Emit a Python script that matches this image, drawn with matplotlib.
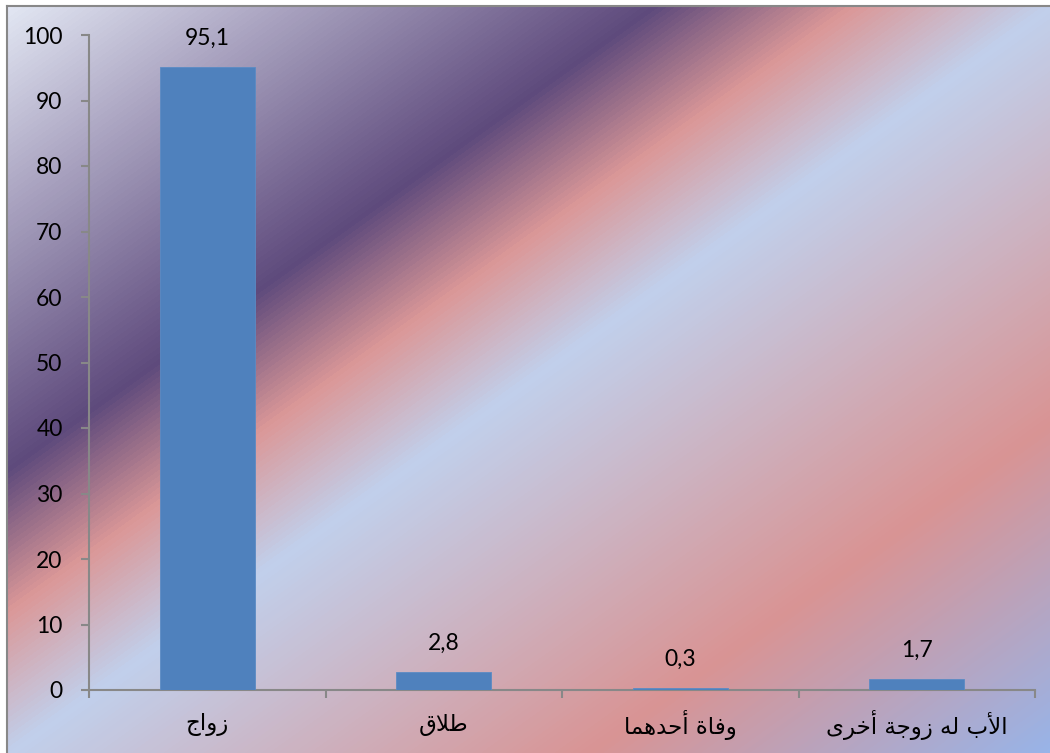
import numpy as np
import matplotlib
matplotlib.use("Agg")
import matplotlib.pyplot as plt
from matplotlib.colors import LinearSegmentedColormap

categories = ['زواج', 'طلاق', 'وفاة أحدهما', 'الأب له زوجة أخرى']
values = [95.1, 2.8, 0.3, 1.7]
value_labels = ['95,1', '2,8', '0,3', '1,7']
y_ticks = [0, 10, 20, 30, 40, 50, 60, 70, 80, 90, 100]

# minimal arabic shaping (matplotlib has no bidi / joining support)
LETTERS = {'ا': 0xFE8D, 'أ': 0xFE83, 'ب': 0xFE8F, 'ة': 0xFE93, 'ج': 0xFE9D,
           'ح': 0xFEA1, 'خ': 0xFEA5, 'د': 0xFEA9, 'ر': 0xFEAD, 'ز': 0xFEAF,
           'ط': 0xFEC1, 'ف': 0xFED1, 'ق': 0xFED5, 'ل': 0xFEDD, 'م': 0xFEE1,
           'ه': 0xFEE9, 'و': 0xFEED, 'ى': 0xFEEF, 'لا': 0xFEFB, 'لأ': 0xFEF7}
DUAL = set('بجحخطفقلمه')


def shape(text):
    toks = []
    i = 0
    while i < len(text):
        if text[i] == 'ل' and i + 1 < len(text) and text[i + 1] in 'اأ':
            toks.append(text[i:i + 2])
            i += 2
        else:
            toks.append(text[i])
            i += 1
    out = []
    for k, t in enumerate(toks):
        if t not in LETTERS:
            out.append(t)
            continue
        prev = k > 0 and toks[k - 1] in DUAL
        nxt = t in DUAL and k + 1 < len(toks) and toks[k + 1] in LETTERS
        off = {(False, False): 0, (True, False): 1, (False, True): 2, (True, True): 3}[(prev, nxt)]
        out.append(chr(LETTERS[t] + off))
    return ''.join(reversed(out))


fig = plt.figure(figsize=(10.5, 7.53), dpi=100)

# gradient background of the chart area
bg = fig.add_axes([7 / 1050, 0, 1 - 7 / 1050, 1 - 6 / 753])
cmap = LinearSegmentedColormap.from_list('bg', [
    (0.0, '#e2e6f3'), (0.31, '#5e4a7c'), (0.405, '#db9898'),
    (0.5, '#c1d0ec'), (0.78, '#d99494'), (1.0, '#98b4e8')])
h, w = 747, 1043
yy, xx = np.mgrid[0:h, 0:w]
t = (xx / w + yy / h) / 2
bg.imshow(t, cmap=cmap, vmin=0, vmax=1, aspect='auto', interpolation='bilinear')
bg.set_xticks([])
bg.set_yticks([])
for s in ['right', 'bottom']:
    bg.spines[s].set_visible(False)
for s in ['left', 'top']:
    bg.spines[s].set_color('#888888')
    bg.spines[s].set_linewidth(1.5)

ax = fig.add_axes([89 / 1050, 1 - 690 / 753, (1035 - 89) / 1050, (690 - 35) / 753])
ax.set_facecolor('none')
x = np.arange(len(categories))
ax.bar(x, values, width=0.4, color='#4f81bd', edgecolor='#5b8bc4', linewidth=0.6, zorder=3)

for xi, v, lab in zip(x, values, value_labels):
    ax.annotate(lab, (xi, v), xytext=(0, 13), textcoords='offset points',
                ha='center', va='bottom', fontsize=16.5, family='Lato', color='black')

ax.set_xlim(-0.5, len(categories) - 0.5)
ax.set_ylim(0, 100)
ax.set_yticks(y_ticks)
ax.set_yticklabels([str(v) for v in y_ticks], family='Lato', fontsize=16.5)
ax.set_xticks(np.arange(-0.5, len(categories), 1.0))
ax.set_xticklabels([])
ax.set_xticks(x, minor=True)
ax.set_xticklabels([shape(c) for c in categories], minor=True,
                   family=['DejaVu Sans'], fontsize=16.5, va='center')
ax.tick_params(axis='y', length=6, width=1.5, color='#888888', pad=13)
ax.tick_params(axis='x', which='major', length=6, width=1.5, color='#888888')
ax.tick_params(axis='x', which='minor', length=0, pad=25)

for s in ['top', 'right']:
    ax.spines[s].set_visible(False)
for s in ['left', 'bottom']:
    ax.spines[s].set_color('#888888')
    ax.spines[s].set_linewidth(1.5)

fig.savefig('out.png', dpi=100)
